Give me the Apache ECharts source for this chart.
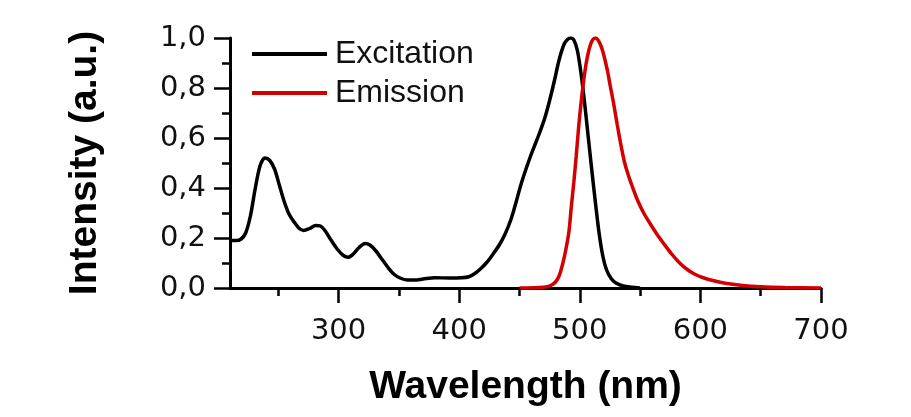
<!DOCTYPE html>
<html>
<head>
<meta charset="utf-8">
<script src="https://cdn.jsdelivr.net/npm/echarts@6/dist/echarts.min.js"></script>
<style>
html,body{margin:0;padding:0;background:#fff;}
#chart{width:911px;height:417px;}
</style>
</head>
<body>
<div id="chart"></div>
<script>
// Excitation spectrum (black)
const excWavelength = [210, 215, 219, 223, 227, 231, 235, 239, 243, 247, 251, 255, 259, 263, 267, 271, 276, 281, 285, 289, 294, 299, 304, 308, 312, 317, 322, 326, 331, 336, 341, 346, 351, 357, 363, 370, 380, 392, 402, 408, 413, 418, 423, 428, 433, 438, 443, 447, 451, 455, 459, 463, 467, 471, 475, 479, 483, 487, 490, 492.5, 495, 498, 501, 504, 507, 510, 513, 516, 519, 522, 526, 530, 536, 543, 550];
const excIntensity  = [0.19, 0.19, 0.195, 0.22, 0.29, 0.40, 0.49, 0.52, 0.51, 0.475, 0.41, 0.345, 0.295, 0.265, 0.24, 0.23, 0.238, 0.25, 0.248, 0.228, 0.19, 0.155, 0.13, 0.123, 0.135, 0.162, 0.178, 0.172, 0.148, 0.115, 0.082, 0.055, 0.04, 0.032, 0.032, 0.036, 0.041, 0.04, 0.041, 0.045, 0.058, 0.078, 0.103, 0.135, 0.17, 0.215, 0.275, 0.34, 0.41, 0.47, 0.525, 0.575, 0.625, 0.68, 0.75, 0.83, 0.915, 0.975, 0.995, 1.0, 0.993, 0.95, 0.86, 0.74, 0.605, 0.47, 0.34, 0.22, 0.13, 0.075, 0.038, 0.02, 0.008, 0.003, 0.0];
// Emission spectrum (red)
const emWavelength = [450, 470, 476, 480, 483, 486, 488.5, 491, 493, 495, 497, 499, 501, 503, 505, 507, 509, 511, 513, 515, 517, 519, 521, 523, 525, 528, 531, 534, 537, 540, 544, 548, 553, 558, 564, 570, 576, 582, 588, 595, 603, 612, 622, 635, 650, 670, 700];
const emIntensity  = [0, 0.003, 0.01, 0.025, 0.05, 0.1, 0.155, 0.225, 0.326, 0.42, 0.525, 0.64, 0.738, 0.82, 0.89, 0.94, 0.975, 0.995, 1.0, 0.993, 0.975, 0.948, 0.91, 0.868, 0.815, 0.74, 0.655, 0.575, 0.505, 0.455, 0.4, 0.35, 0.3, 0.26, 0.215, 0.175, 0.137, 0.104, 0.078, 0.056, 0.04, 0.028, 0.018, 0.01, 0.005, 0.002, 0];
// Axis ticks
const xMajorTicks = [300, 400, 500, 600, 700];
const xMinorTicks = [250, 350, 450, 550, 650];
const seriesNames = ['Excitation', 'Emission'];
const xTitle = 'Wavelength (nm)';
const yTitle = 'Intensity (a.u.)';

const zip = (a, b) => a.map((v, i) => [v, b[i]]);
const chart = echarts.init(document.getElementById('chart'));
const axisLineStyle = {color: '#000', width: 3};
chart.setOption({
  animation: false,
  backgroundColor: '#fff',
  grid: {left: 230, right: 90, top: 38, bottom: 129},
  legend: {
    orient: 'vertical', left: 247, top: 33, itemGap: 7,
    itemWidth: 75, itemHeight: 4, icon: 'rect',
    data: seriesNames,
    textStyle: {fontFamily: 'Liberation Sans', fontSize: 32, color: '#111', padding: [0, 0, 0, 3]}
  },
  xAxis: [{
    type: 'value', min: 210, max: 700, position: 'bottom',
    name: xTitle, nameLocation: 'middle', nameGap: 80,
    nameTextStyle: {fontFamily: 'Liberation Sans', fontWeight: 'bold', fontSize: 39, color: '#000'},
    axisLine: {show: true, lineStyle: axisLineStyle},
    axisTick: {show: true, customValues: xMajorTicks, length: 15, lineStyle: {color: '#000', width: 2.5}},
    axisLabel: {customValues: xMajorTicks, margin: 29, fontFamily: 'DejaVu Sans', fontSize: 29, color: '#111'},
    splitLine: {show: false}
  }, {
    type: 'value', min: 210, max: 700, position: 'bottom',
    axisLine: {show: false},
    axisTick: {show: true, customValues: xMinorTicks, length: 8, lineStyle: {color: '#000', width: 2.5}},
    axisLabel: {show: false},
    splitLine: {show: false}
  }],
  yAxis: {
    type: 'value', min: 0, max: 1, interval: 0.2,
    name: yTitle, nameLocation: 'middle', nameGap: 125,
    nameTextStyle: {fontFamily: 'Liberation Sans', fontWeight: 'bold', fontSize: 39, color: '#000'},
    axisLine: {show: true, lineStyle: axisLineStyle},
    axisTick: {show: true, length: 16, lineStyle: {color: '#000', width: 2.5}},
    minorTick: {show: true, splitNumber: 2, length: 8, lineStyle: {color: '#000', width: 2.5}},
    axisLabel: {margin: 24, fontFamily: 'DejaVu Sans', fontSize: 29, color: '#111',
      formatter: v => v.toFixed(1).replace('.', ',')},
    splitLine: {show: false}, minorSplitLine: {show: false}
  },
  series: [{
    name: seriesNames[0], type: 'line', xAxisIndex: 0, data: zip(excWavelength, excIntensity),
    smooth: 0.3, symbol: 'none', lineStyle: {color: '#000', width: 3.5}, itemStyle: {color: '#000'}
  }, {
    name: seriesNames[1], type: 'line', xAxisIndex: 0, data: zip(emWavelength, emIntensity),
    smooth: 0.3, symbol: 'none', lineStyle: {color: '#d40000', width: 3.5}, itemStyle: {color: '#d40000'}
  }]
});
</script>
</body>
</html>
